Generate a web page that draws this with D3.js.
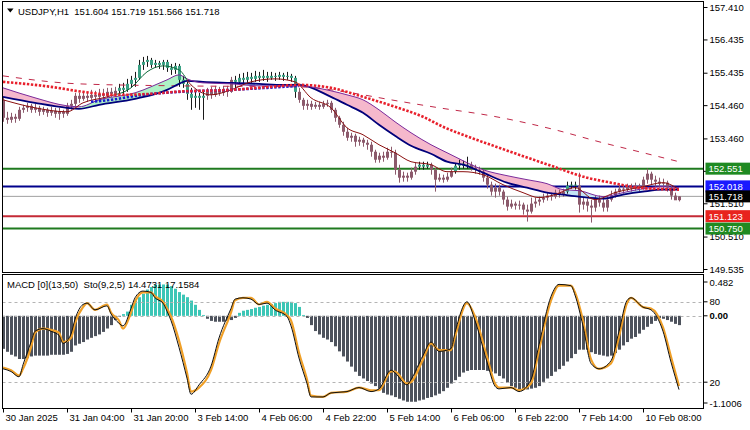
<!DOCTYPE html>
<html><head><meta charset="utf-8">
<script src="https://cdn.jsdelivr.net/npm/d3@7"></script>
<style>
body{margin:0;background:#fff;}
svg{display:block;font-family:"Liberation Sans",Arial,sans-serif;}
</style></head><body>
<svg id="c" width="750" height="430"></svg>
<script>
// ---------- DATA ----------
const symbolTitle = "USDJPY,H1  151.604 151.719 151.566 151.718";
const subTitle = "MACD [0](13,50)  Sto(9,2,5) 14.4731 17.1584";

const open = [154.62,154.08,154.02,154.11,154.05,154.32,154.38,154.44,154.32,154.38,
154.26,154.32,154.23,154.29,154.20,154.26,154.20,154.44,154.50,154.74,
154.65,154.74,154.68,154.77,154.71,154.80,154.74,154.86,154.80,154.89,
154.98,154.92,155.10,155.22,155.28,155.67,155.76,155.82,155.67,155.73,
155.67,155.76,155.58,155.52,155.64,155.22,155.10,154.80,154.68,154.74,
154.68,154.74,154.86,154.77,154.89,154.83,154.92,154.86,155.22,155.16,
155.28,155.22,155.31,155.25,155.34,155.28,155.34,155.28,155.34,155.31,
155.37,155.31,155.34,155.28,154.86,154.62,154.44,154.50,154.41,154.47,
154.41,154.50,154.53,154.32,154.08,153.87,153.66,153.48,153.54,153.36,
153.42,153.33,153.27,153.06,152.82,152.94,152.88,153.06,153.03,152.52,
152.28,152.34,152.28,152.46,152.61,152.67,152.61,152.67,152.52,152.22,
152.28,152.22,152.31,152.46,152.64,152.70,152.64,152.67,152.58,152.52,
152.46,152.28,152.07,151.86,151.98,151.86,151.62,151.41,151.50,151.44,
151.47,151.32,151.26,151.50,151.56,151.62,151.68,151.74,151.71,151.83,
151.77,151.86,152.04,152.07,152.04,151.47,151.56,151.44,151.38,151.62,
151.53,151.38,151.62,151.74,151.86,151.95,151.92,152.01,151.95,152.04,
151.98,152.22,152.40,152.22,152.16,152.10,152.13,151.98,151.74,151.604];
const high = [154.71,154.26,154.23,154.20,154.41,154.47,154.53,154.50,154.50,154.44,
154.41,154.38,154.41,154.38,154.38,154.32,154.53,154.62,154.83,154.83,
154.86,154.86,154.92,154.89,154.95,154.95,154.98,154.98,155.01,155.10,
155.13,155.25,155.34,155.46,155.82,155.91,155.94,155.88,155.82,155.79,
155.82,155.82,155.70,155.73,155.70,155.34,155.16,154.98,154.86,154.83,
154.89,154.98,155.01,155.04,155.01,155.04,155.04,155.31,155.34,155.40,
155.43,155.46,155.43,155.49,155.46,155.52,155.46,155.46,155.43,155.46,
155.43,155.46,155.40,155.34,154.98,154.68,154.62,154.59,154.56,154.56,
154.59,154.62,154.59,154.38,154.14,153.96,153.78,153.63,153.60,153.51,
153.48,153.42,153.36,153.12,153.03,153.06,153.18,153.21,153.12,152.67,
152.46,152.43,152.58,152.73,152.76,152.76,152.76,152.73,152.58,152.40,
152.37,152.43,152.58,152.70,152.82,152.79,152.91,152.76,152.67,152.61,
152.52,152.37,152.16,152.10,152.07,151.92,151.71,151.62,151.56,151.59,
151.53,151.47,151.68,151.68,151.71,151.80,151.83,151.83,151.92,151.92,
151.95,152.16,152.16,152.16,152.43,151.68,151.65,151.62,151.74,151.74,
151.68,151.74,151.89,151.95,152.07,152.04,152.10,152.10,152.13,152.10,
152.31,152.55,152.46,152.34,152.28,152.25,152.19,152.04,151.83,151.719];
const low = [153.96,153.90,153.93,153.93,153.99,154.23,154.26,154.23,154.23,154.14,
154.17,154.11,154.14,154.08,154.02,154.08,154.14,154.32,154.41,154.53,
154.59,154.56,154.62,154.59,154.62,154.65,154.68,154.71,154.71,154.80,
154.77,154.86,154.98,155.01,155.22,155.52,155.61,155.58,155.58,155.55,
155.52,155.46,155.37,155.40,155.01,154.98,154.62,154.32,154.38,154.32,
154.02,154.62,154.65,154.71,154.74,154.74,154.71,154.83,154.92,155.07,
155.10,155.13,155.13,155.16,155.16,155.19,155.16,155.22,155.19,155.22,
155.19,155.22,155.16,154.68,154.53,154.32,154.32,154.32,154.35,154.32,
154.35,154.41,154.23,153.96,153.78,153.54,153.39,153.36,153.21,153.24,
153.21,153.12,152.91,152.73,152.73,152.76,152.82,152.88,152.37,152.13,
152.16,152.16,152.22,152.37,152.52,152.52,152.55,152.37,151.86,152.16,
152.13,152.16,152.28,152.40,152.52,152.55,152.55,152.49,152.40,152.37,
152.16,151.95,151.74,151.68,151.74,151.47,151.29,151.35,151.32,151.32,
151.17,150.96,151.20,151.38,151.44,151.53,151.59,151.59,151.65,151.68,
151.71,151.80,151.95,151.92,151.23,151.32,151.26,150.93,151.26,151.41,
151.26,151.26,151.56,151.68,151.83,151.80,151.86,151.86,151.89,151.86,
151.92,152.10,152.07,152.01,151.98,151.92,151.86,151.62,151.62,151.566];
const close = [154.08,154.02,154.11,154.05,154.32,154.38,154.44,154.32,154.38,154.26,
154.32,154.23,154.29,154.20,154.26,154.20,154.44,154.50,154.74,154.65,
154.74,154.68,154.77,154.71,154.80,154.74,154.86,154.80,154.89,154.98,
154.92,155.10,155.22,155.28,155.67,155.76,155.82,155.67,155.73,155.67,
155.76,155.58,155.52,155.64,155.22,155.10,154.80,154.68,154.74,154.68,
154.74,154.86,154.77,154.89,154.83,154.92,154.86,155.22,155.16,155.28,
155.22,155.31,155.25,155.34,155.28,155.34,155.28,155.34,155.31,155.37,
155.31,155.34,155.28,154.86,154.62,154.44,154.50,154.41,154.47,154.41,
154.50,154.53,154.32,154.08,153.87,153.66,153.48,153.54,153.36,153.42,
153.33,153.27,153.06,152.82,152.94,152.88,153.06,153.03,152.52,152.28,
152.34,152.28,152.46,152.61,152.67,152.61,152.67,152.52,152.22,152.28,
152.22,152.31,152.46,152.64,152.70,152.64,152.67,152.58,152.52,152.46,
152.28,152.07,151.86,151.98,151.86,151.62,151.41,151.50,151.44,151.47,
151.32,151.26,151.50,151.56,151.62,151.68,151.74,151.71,151.83,151.77,
151.86,152.04,152.07,152.04,151.47,151.56,151.44,151.38,151.62,151.53,
151.38,151.62,151.74,151.86,151.95,151.92,152.01,151.95,152.04,151.98,
152.22,152.40,152.22,152.16,152.10,152.13,151.98,151.74,151.60,151.718];
// bar ranges painted in the bullish-trend colour
const greenRanges = [[29,50],[58,73],[104,106],[113,116],[141,143]];

// moving averages (read at sparse bars)
const slowDashIdx = [0,19,44,74,87,97,109,122,138,149,159,169];
const slowDashVal = [155.34,155.10,155.04,155.01,154.83,154.62,154.38,154.14,153.72,153.36,153.06,152.76];
const redDotIdx = [0,12,20,28,37,43,57,67,74,82,90,98,105,110,117,124,137,146,152,159,169];
const redDotVal = [155.16,155.01,154.86,154.77,154.80,154.86,154.92,155.01,155.07,154.98,154.71,154.41,154.11,153.81,153.48,153.18,152.64,152.28,152.13,151.98,151.92];
const blueDotIdx = [22,27,35,44,57,66,74];
const blueDotVal = [154.56,154.62,154.77,154.86,154.92,154.98,155.04];
const bandIdx = [0,8,16,19,24,33,41,44,46,50,57,64,70,74,82,86,90,94,98,102,107,111,115,120,126,131,136,140,144,150,155,160,165,169];
const bandSlow = [154.71,154.53,154.38,154.35,154.47,154.65,154.92,155.10,155.19,155.16,155.13,155.10,155.07,155.07,154.71,154.47,154.23,153.87,153.54,153.24,153.00,152.76,152.67,152.43,152.13,151.98,151.83,151.77,151.71,151.65,151.77,151.86,151.92,151.92];
const bandFast = [154.98,154.68,154.44,154.41,154.62,154.83,155.22,155.37,155.25,155.13,155.10,155.04,155.04,155.04,154.89,154.77,154.62,154.32,153.96,153.63,153.27,153.03,152.79,152.52,152.34,152.22,152.10,151.92,151.89,151.71,151.83,151.95,152.01,151.98];
const bandZoneEdges = [0,19,46,57,74,140,160,169];
const fastIdx = [0,8,16,20,26,32,36,40,44,47,52,57,62,68,73,77,82,86,90,94,98,102,107,111,115,120,125,130,134,138,143,148,153,160,165,169];
const fastVal = [154.62,154.38,154.26,154.53,154.71,154.98,155.46,155.64,155.52,155.07,154.77,154.92,155.16,155.25,155.16,154.68,154.38,153.78,153.57,153.27,153.03,152.76,152.67,152.46,152.46,152.37,152.07,151.83,151.68,151.77,151.98,151.62,151.83,152.01,152.13,151.92];

// horizontal levels
const levels = [152.551,152.018,151.718,151.123,150.750];
const levelLabels = ["152.551","152.018","151.718","151.123","150.750"];

// MACD histogram (one per bar)
const macd = [-0.39,-0.425,-0.46,-0.48,-0.51,-0.51,-0.50,-0.48,-0.47,-0.47,
-0.47,-0.47,-0.46,-0.46,-0.46,-0.46,-0.45,-0.425,-0.35,-0.33,
-0.31,-0.28,-0.26,-0.24,-0.22,-0.19,-0.15,-0.11,-0.05,-0.01,
0.02,0.05,0.13,0.18,0.22,0.26,0.31,0.34,0.37,0.37,
0.37,0.37,0.35,0.32,0.28,0.25,0.22,0.18,0.13,0.07,
0.01,-0.035,-0.06,-0.07,-0.07,-0.07,-0.06,-0.05,-0.025,0.035,
0.06,0.07,0.08,0.095,0.105,0.12,0.13,0.14,0.15,0.165,
0.165,0.165,0.165,0.15,0.105,0.01,-0.025,-0.11,-0.18,-0.22,
-0.26,-0.28,-0.31,-0.36,-0.42,-0.48,-0.54,-0.60,-0.66,-0.71,
-0.74,-0.77,-0.80,-0.83,-0.86,-0.91,-0.93,-0.94,-0.96,-0.98,
-1.00,-1.015,-1.015,-1.015,-1.00,-0.99,-0.97,-0.96,-0.94,-0.92,
-0.89,-0.85,-0.80,-0.76,-0.72,-0.67,-0.65,-0.64,-0.64,-0.64,
-0.64,-0.65,-0.66,-0.68,-0.71,-0.74,-0.79,-0.83,-0.85,-0.87,
-0.87,-0.87,-0.86,-0.85,-0.83,-0.78,-0.74,-0.71,-0.66,-0.63,
-0.59,-0.54,-0.50,-0.45,-0.40,-0.40,-0.40,-0.43,-0.45,-0.46,
-0.47,-0.48,-0.47,-0.44,-0.40,-0.35,-0.31,-0.27,-0.25,-0.21,
-0.165,-0.13,-0.095,-0.06,-0.025,-0.035,-0.05,-0.07,-0.095,-0.11];
const macdMax = 0.482, macdMin = -1.1006;

// Stochastic (read at sparse bars)
const stochIdx = [0,2,4,5,7,8,10,12,14,15,17,18,20,21,23,26,27,29,30,32,33,35,37,38,40,41,42,44,46,47,49,52,54,57,58,60,62,64,66,68,71,72,74,76,77,80,82,86,89,92,94,97,98,101,102,105,107,109,112,113,116,118,121,123,124,127,129,132,134,137,139,142,143,145,147,149,152,154,156,157,160,162,165,167,169];
const stochMain = [30,28,24,33,50,58,60,58,55,49,56,67,78,79,74,77,71,64,62,75,83,88,87,83,79,73,66,46,23,11,18,32,53,75,82,83,82,78,79,74,69,62,38,19,9,9,12,13,16,13,15,29,27,18,22,40,50,43,45,57,80,66,35,17,15,16,13,22,48,84,93,92,85,62,34,30,36,58,81,83,76,74,58,35,14.47];
const stochSignal = [31,29,25,30,46,57,60,59,57,50,53,64,76,79,74,78,72,66,60,72,80,87,87,84,80,75,69,51,27,13,16,29,49,72,81,83,83,78,80,75,70,66,42,22,10,9,12,13,16,14,14,28,28,19,20,37,49,44,44,54,79,69,39,19,16,16,14,19,44,81,92,92,87,66,37,30,34,54,79,83,76,75,61,39,17.16];
const stochLevels = [80,20];

// axes
const priceTicks = [157.410,156.435,155.435,154.460,153.460,152.485,151.510,150.510,149.535];
const timeTickBars = [0,16,32,48,64,80,96,112,128,144,160];
const timeLabels = ["30 Jan 2025","31 Jan 04:00","31 Jan 20:00","3 Feb 14:00","4 Feb 06:00","4 Feb 22:00","5 Feb 14:00","6 Feb 06:00","6 Feb 22:00","7 Feb 14:00","10 Feb 08:00"];

// ---------- STYLE ----------
const FONT = "Liberation Sans, Arial, sans-serif";
const levelStroke = ["#1f7a1f","#00008b","#a0a0a0","#c42a36","#1f7a1f"];
const levelWidth = [2,2,1,2,2];
const levelBox = ["#1f8a22","#1a1aff","#000000","#e8231e","#1f8a22"];
const zoneFill = ["#f5b8cc","#aef2c6","#f7d3de","#bfe3f7","#f5b8cc","#c4e4f6","#f5b8cc"];
const colGreen = "#3aa184", colMauve = "#8c5a6c";

// ---------- LAYOUT ----------
const L = 2.5, R = 703.5, mainT = 1.5, mainB = 272.5, subT = 274.5, subB = 408.5;
const svg = d3.select("#c");
const x = d3.scaleLinear().domain([0, 169]).range([3, 679]);
const y = d3.scaleLinear().domain([149.535, 157.410]).range([269, 7]);
const yM = d3.scaleLinear().domain([macdMin, macdMax]).range([409, 275]);
const yS = d3.scaleLinear().domain([0, 100]).range([409, 275]);
const defs = svg.append("defs");
defs.append("clipPath").attr("id","clipMain").append("rect").attr("x",L).attr("y",mainT).attr("width",R-L).attr("height",mainB-mainT);
defs.append("clipPath").attr("id","clipSub").append("rect").attr("x",L).attr("y",subT).attr("width",R-L).attr("height",subB-subT);

const gMain = svg.append("g").attr("clip-path","url(#clipMain)");
const gSub = svg.append("g").attr("clip-path","url(#clipSub)");

// levels
levels.forEach((v,i)=>{
  gMain.append("line").attr("x1",L).attr("x2",R).attr("y1",y(v)).attr("y2",y(v))
    .attr("stroke",levelStroke[i]).attr("stroke-width",levelWidth[i]);
});

// band fill by zones
const bandPts = bandIdx.map((d,i)=>({i:d,a:bandSlow[i],b:bandFast[i]}));
const bandArea = d3.area().x(d=>x(d.i)).y0(d=>y(d.a)).y1(d=>y(d.b)).curve(d3.curveMonotoneX);
for (let z=0; z<bandZoneEdges.length-1; z++){
  const id = "zone"+z;
  const x0 = z===0 ? L : x(bandZoneEdges[z]);
  const x1 = x(bandZoneEdges[z+1]);
  defs.append("clipPath").attr("id",id).append("rect").attr("x",x0).attr("y",0).attr("width",x1-x0).attr("height",430);
  gMain.append("path").datum(bandPts).attr("d",bandArea).attr("fill",zoneFill[z]).attr("clip-path",`url(#${id})`);
}

// candles
const bars = d3.range(close.length);
const isGreen = i => greenRanges.some(([a,b])=>i>=a && i<=b);
const gC = gMain.append("g");
gC.selectAll("line").data(bars).join("line")
  .attr("x1",i=>Math.round(x(i))+0.5).attr("x2",i=>Math.round(x(i))+0.5)
  .attr("y1",i=>y(high[i])).attr("y2",i=>y(low[i]))
  .attr("stroke",i=>isGreen(i)?"#1a1a1a":colMauve).attr("stroke-width",1);
gC.selectAll("rect").data(bars).join("rect")
  .attr("x",i=>Math.round(x(i))-1).attr("width",3)
  .attr("y",i=>y(Math.max(open[i],close[i])))
  .attr("height",i=>Math.max(1,Math.abs(y(open[i])-y(close[i]))))
  .attr("fill",i=>isGreen(i)?colGreen:colMauve);

// lines
const lineP = d3.line().x(d=>x(d[0])).y(d=>y(d[1])).curve(d3.curveMonotoneX);
const zip = (a,b)=>a.map((d,i)=>[d,b[i]]);
gMain.append("path").datum(zip(slowDashIdx,slowDashVal)).attr("d",lineP).attr("fill","none")
  .attr("stroke","#c02848").attr("stroke-width",1).attr("stroke-dasharray","6,7");
gMain.append("path").datum(zip(bandIdx,bandSlow)).attr("d",lineP).attr("fill","none")
  .attr("stroke","#00007a").attr("stroke-width",1.8);
gMain.append("path").datum(zip(bandIdx,bandFast)).attr("d",lineP).attr("fill","none")
  .attr("stroke","#7a2a9a").attr("stroke-width",1);
// fast thin line: green while rising, dark red otherwise
defs.append("clipPath").attr("id","fastUp").append("rect").attr("x",x(28)).attr("y",0).attr("width",x(46)-x(28)).attr("height",430);
defs.append("clipPath").attr("id","fastDn").append("path").attr("d",`M0,0H${x(28)}V430H0Z M${x(46)},0H750V430H${x(46)}Z`);
gMain.append("path").datum(zip(fastIdx,fastVal)).attr("d",lineP).attr("fill","none")
  .attr("stroke","#8b1010").attr("stroke-width",1).attr("clip-path","url(#fastDn)");
gMain.append("path").datum(zip(fastIdx,fastVal)).attr("d",lineP).attr("fill","none")
  .attr("stroke","#0e6a3a").attr("stroke-width",1).attr("clip-path","url(#fastUp)");
gMain.append("path").datum(zip(blueDotIdx,blueDotVal)).attr("d",lineP).attr("fill","none")
  .attr("stroke","#1a1ad0").attr("stroke-width",2.6).attr("stroke-dasharray","2.4,1.6");
gMain.append("path").datum(zip(redDotIdx,redDotVal)).attr("d",lineP).attr("fill","none")
  .attr("stroke","#e8202c").attr("stroke-width",2.6).attr("stroke-dasharray","2.4,1.6");

// ---------- SUB PANEL ----------
gSub.selectAll("rect.h").data(bars).join("rect").attr("class","h")
  .attr("x",i=>Math.round(x(i))-1).attr("width",3)
  .attr("y",i=>Math.min(yM(0),yM(macd[i])))
  .attr("height",i=>Math.abs(yM(macd[i])-yM(0)))
  .attr("fill",i=>macd[i]>=0?"#3cc6b6":"#4d525c");
stochLevels.forEach(v=>{
  gSub.append("line").attr("x1",L).attr("x2",R).attr("y1",Math.round(yS(v))+0.5).attr("y2",Math.round(yS(v))+0.5)
    .attr("stroke","#b4b4b4").attr("stroke-dasharray","3,3");
});
gSub.append("line").attr("x1",L).attr("x2",R).attr("y1",Math.round(yM(0))+0.5).attr("y2",Math.round(yM(0))+0.5)
  .attr("stroke","#b4b4b4").attr("stroke-dasharray","3,3");
const lineS = d3.line().x(d=>x(d[0])).y(d=>yS(d[1])).curve(d3.curveMonotoneX);
gSub.append("path").datum(zip(stochIdx,stochSignal)).attr("d",lineS).attr("fill","none")
  .attr("stroke","#f0a028").attr("stroke-width",2.2);
gSub.append("path").datum(zip(stochIdx,stochMain)).attr("d",lineS).attr("fill","none")
  .attr("stroke","#111").attr("stroke-width",1);

// ---------- FRAMES ----------
svg.append("rect").attr("x",L).attr("y",mainT).attr("width",R-L).attr("height",mainB-mainT).attr("fill","none").attr("stroke","#000");
svg.append("rect").attr("x",L).attr("y",subT).attr("width",R-L).attr("height",subB-subT).attr("fill","none").attr("stroke","#000");

// ---------- AXES ----------
const gy = svg.append("g").attr("transform",`translate(${R},0)`)
  .call(d3.axisRight(y).tickValues(priceTicks).tickFormat(d3.format(".3f")).tickSize(4).tickPadding(2));
gy.select(".domain").remove();
gy.attr("font-family",FONT).attr("font-size",9.5);
gy.selectAll("text").attr("fill","#000");

const gx = svg.append("g").attr("transform",`translate(0,${subB})`)
  .call(d3.axisBottom(x).tickValues(timeTickBars).tickFormat((d,i)=>timeLabels[i]).tickSize(4).tickPadding(2));
gx.select(".domain").remove();
gx.attr("font-family",FONT).attr("font-size",9.5);
gx.selectAll("text").attr("text-anchor","start").attr("x",2).attr("fill","#000");

// level boxes (drawn over the price scale, as in the terminal)
levels.forEach((v,i)=>{
  const cy = y(v);
  svg.append("rect").attr("x",R+2).attr("y",cy-6).attr("width",46).attr("height",12).attr("fill",levelBox[i]);
  svg.append("text").attr("x",R+5).attr("y",cy+3.5).attr("font-family",FONT).attr("font-size",9.5)
    .attr("fill","#fff").text(levelLabels[i]);
});

// sub panel scale labels
const subLab = [
  {t:d3.format(".3f")(macdMax), y:yM(macdMax)+7},
  {t:String(stochLevels[0]), y:yS(stochLevels[0])},
  {t:"0.00", y:yM(0), b:true},
  {t:String(stochLevels[1]), y:yS(stochLevels[1])},
  {t:String(macdMin), y:yM(macdMin)-6}
];
subLab.forEach(d=>{
  svg.append("line").attr("x1",R).attr("x2",R+4).attr("y1",d.y).attr("y2",d.y).attr("stroke","#000");
  svg.append("text").attr("x",R+6).attr("y",d.y+3.5).attr("font-family",FONT).attr("font-size",9.5)
    .attr("font-weight",d.b?"bold":"normal").text(d.t);
});

// titles
svg.append("path").attr("d","M7,8.5H13.5L10.25,12.5Z").attr("fill","#000");
svg.append("text").attr("x",18).attr("y",14.5).attr("font-family",FONT).attr("font-size",9.5).style("white-space","pre").text(symbolTitle);
svg.append("text").attr("x",7).attr("y",288).attr("font-family",FONT).attr("font-size",9.5).style("white-space","pre").text(subTitle);
</script>
</body></html>
